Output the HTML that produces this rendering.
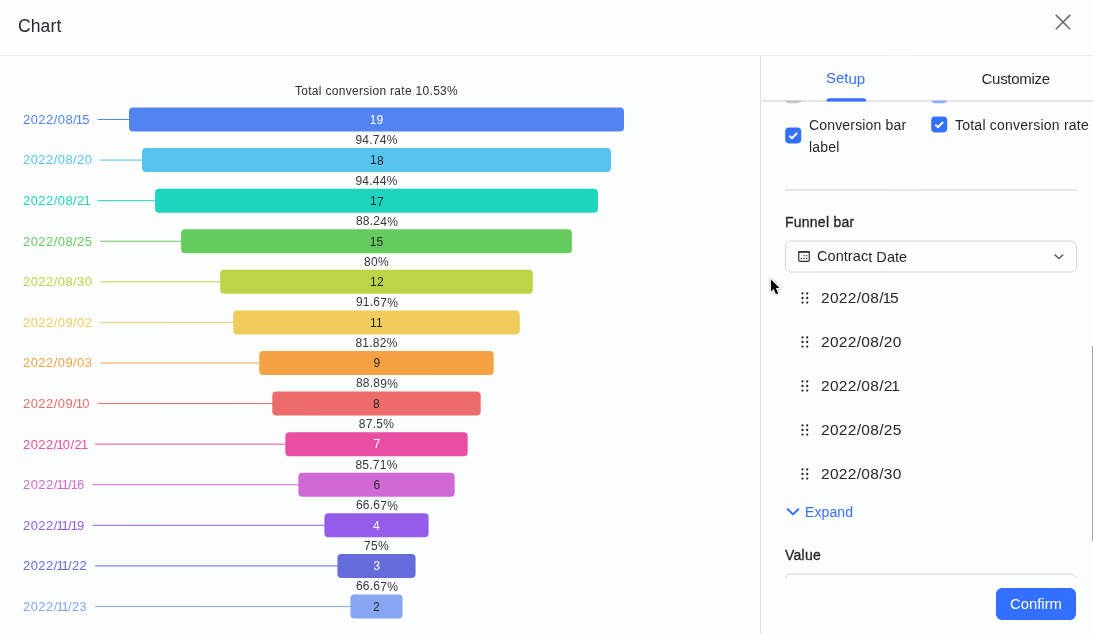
<!DOCTYPE html>
<html>
<head>
<meta charset="utf-8">
<title>Chart</title>
<style>
*{box-sizing:border-box;margin:0;padding:0}
html,body{width:1093px;height:634px;overflow:hidden;background:#fcfefd;font-family:"Liberation Sans",sans-serif;color:#1f2329}
.abs{position:absolute}
#root{position:absolute;left:0;top:0;width:1093px;height:634px;transform:rotate(.001deg);transform-origin:546px 317px;will-change:transform}
#hdr{position:absolute;left:0;top:0;width:1093px;height:56px;border-bottom:1px solid #ebeced}
#title{position:absolute;left:18px;top:14.8px;font-size:17.5px;line-height:22px;letter-spacing:.12px;color:#24282e}
#close{position:absolute;left:1054px;top:13px}
/* chart */
#chart{position:absolute;left:0;top:56px;width:760px;height:578px}
.lbl{position:absolute;left:23px;font-size:13px;line-height:14px;height:14px;white-space:nowrap;letter-spacing:.44px}
.lbl i,.item i{font-style:normal;margin:0 -1.3px}
.bv{position:absolute;left:326.5px;width:100px;text-align:center;font-size:12px;line-height:14px;letter-spacing:.2px}
.pct{position:absolute;left:326.5px;width:100px;text-align:center;font-size:12px;line-height:14px;color:#33373d;letter-spacing:.25px}
#tot{position:absolute;left:226.5px;width:300px;top:83.8px;text-align:center;font-size:12px;line-height:14px;color:#2b2f36;letter-spacing:.3px}
/* panel */
#panel{position:absolute;left:760px;top:55px;width:333px;height:579px;border-left:1px solid #dee0e3}
.tab{position:absolute;top:70px;font-size:15px;line-height:18px;white-space:nowrap}
.cb{position:absolute;width:16px;height:16px;border-radius:3px;background:#3370ff}
.t14{position:absolute;font-size:14px;line-height:22px;white-space:nowrap;color:#1f2329}
.item{position:absolute;left:821px;font-size:15.5px;line-height:20px;white-space:nowrap;color:#24282e;letter-spacing:.3px}
.drag{position:absolute;left:801px}
.med{-webkit-text-stroke:.32px #1f2329}
</style>
</head>
<body>
<div id="root">
<div id="hdr"></div>
<div id="title">Chart</div>
<svg id="close" width="18" height="18" viewBox="0 0 18 18"><path d="M1.8 1.9 L16.2 16.3 M16.2 1.9 L1.8 16.3" stroke="#646a73" stroke-width="1.5" fill="none"/></svg>

<div id="tot">Total conversion rate 10.53%</div>
<svg class="abs" style="left:0;top:0" width="760" height="634" viewBox="0 0 760 634">
<rect x="97.7" y="119" width="32.3" height="1" fill="#5383f0"/>
<rect x="129" y="107.5" width="495" height="24" rx="4" fill="#5383f0"/>
<rect x="100.3" y="159.58" width="42.73" height="1" fill="#55c4ee"/>
<rect x="142.03" y="148.08" width="468.95" height="24" rx="4" fill="#55c4ee"/>
<rect x="97.7" y="200.16" width="58.35" height="1" fill="#1dd5be"/>
<rect x="155.05" y="188.66" width="442.89" height="24" rx="4" fill="#1dd5be"/>
<rect x="100.3" y="240.74" width="81.81" height="1" fill="#65cb5c"/>
<rect x="181.11" y="229.24" width="390.79" height="24" rx="4" fill="#65cb5c"/>
<rect x="100.3" y="281.32" width="120.88" height="1" fill="#bad546"/>
<rect x="220.18" y="269.82" width="312.63" height="24" rx="4" fill="#bad546"/>
<rect x="100.3" y="321.9" width="133.91" height="1" fill="#f0cc5b"/>
<rect x="233.21" y="310.4" width="286.58" height="24" rx="4" fill="#f0cc5b"/>
<rect x="100.3" y="362.48" width="159.96" height="1" fill="#f4a244"/>
<rect x="259.26" y="350.98" width="234.47" height="24" rx="4" fill="#f4a244"/>
<rect x="97.7" y="403.06" width="175.59" height="1" fill="#eb6c68"/>
<rect x="272.29" y="391.56" width="208.42" height="24" rx="4" fill="#eb6c68"/>
<rect x="95.1" y="443.64" width="191.22" height="1" fill="#e94ea2"/>
<rect x="285.32" y="432.14" width="182.37" height="24" rx="4" fill="#e94ea2"/>
<rect x="92.5" y="484.22" width="206.84" height="1" fill="#d169d4"/>
<rect x="298.34" y="472.72" width="156.32" height="24" rx="4" fill="#d169d4"/>
<rect x="92.5" y="524.8" width="232.89" height="1" fill="#935dea"/>
<rect x="324.39" y="513.3" width="104.21" height="24" rx="4" fill="#935dea"/>
<rect x="95.1" y="565.38" width="243.32" height="1" fill="#646bdb"/>
<rect x="337.42" y="553.88" width="78.16" height="24" rx="4" fill="#646bdb"/>
<rect x="95.1" y="605.96" width="256.35" height="1" fill="#86a5f2"/>
<rect x="350.45" y="594.46" width="52.11" height="24" rx="4" fill="#86a5f2"/>
</svg>
<div class="lbl" style="top:113px;color:#5383f0">2022/08/<i>1</i>5</div>
<div class="bv" style="top:113px;color:#fff">19</div>
<div class="pct" style="top:133px">94.74%</div>
<div class="lbl" style="top:153px;color:#55c4ee">2022/08/20</div>
<div class="bv" style="top:153px;transform:translateY(.5px) rotate(.001deg);color:#1f2329">18</div>
<div class="pct" style="top:174px">94.44%</div>
<div class="lbl" style="top:194px;color:#1dd5be">2022/08/2<i>1</i></div>
<div class="bv" style="top:194px;transform:translateY(.5px) rotate(.001deg);color:#1f2329">17</div>
<div class="pct" style="top:214px;transform:translateY(.5px) rotate(.001deg)">88.24%</div>
<div class="lbl" style="top:235px;color:#65cb5c">2022/08/25</div>
<div class="bv" style="top:235px;color:#1f2329">15</div>
<div class="pct" style="top:255px">80%</div>
<div class="lbl" style="top:275px;color:#bad546">2022/08/30</div>
<div class="bv" style="top:275px;transform:translateY(.5px) rotate(.001deg);color:#1f2329">12</div>
<div class="pct" style="top:295px;transform:translateY(.5px) rotate(.001deg)">91.67%</div>
<div class="lbl" style="top:316px;color:#f0cc5b">2022/09/02</div>
<div class="bv" style="top:316px;color:#1f2329">11</div>
<div class="pct" style="top:336px">81.82%</div>
<div class="lbl" style="top:356px;color:#f4a244">2022/09/03</div>
<div class="bv" style="top:356px;transform:translateY(.5px) rotate(.001deg);color:#1f2329">9</div>
<div class="pct" style="top:376px;transform:translateY(.5px) rotate(.001deg)">88.89%</div>
<div class="lbl" style="top:397px;color:#eb6c68">2022/09/<i>1</i>0</div>
<div class="bv" style="top:397px;color:#1f2329">8</div>
<div class="pct" style="top:417px">87.5%</div>
<div class="lbl" style="top:438px;color:#e94ea2">2022/<i>1</i>0/2<i>1</i></div>
<div class="bv" style="top:437px;transform:translateY(.5px) rotate(.001deg);color:#fff">7</div>
<div class="pct" style="top:458px">85.71%</div>
<div class="lbl" style="top:478px;color:#d169d4">2022/<i>1</i><i>1</i>/<i>1</i>6</div>
<div class="bv" style="top:478px;transform:translateY(.5px) rotate(.001deg);color:#1f2329">6</div>
<div class="pct" style="top:498px;transform:translateY(.5px) rotate(.001deg)">66.67%</div>
<div class="lbl" style="top:519px;color:#935dea">2022/<i>1</i><i>1</i>/<i>1</i>9</div>
<div class="bv" style="top:519px;color:#fff">4</div>
<div class="pct" style="top:539px">75%</div>
<div class="lbl" style="top:559px;color:#646bdb">2022/<i>1</i><i>1</i>/22</div>
<div class="bv" style="top:559px;transform:translateY(.5px) rotate(.001deg);color:#fff">3</div>
<div class="pct" style="top:579px;transform:translateY(.5px) rotate(.001deg)">66.67%</div>
<div class="lbl" style="top:600px;color:#86a5f2">2022/<i>1</i><i>1</i>/23</div>
<div class="bv" style="top:600px;color:#1f2329">2</div>

<div id="panel"></div>

<div class="tab" style="left:826px;color:#3370ff;transform:translateY(-.5px) rotate(.001deg)">Setup</div>
<div class="tab" style="left:981.5px;color:#24282e;letter-spacing:-.27px">Customize</div>

<!-- partially hidden checkboxes -->
<div class="abs" style="left:761px;top:100px;width:332px;height:2px;background:#e5e6e8"></div>
<svg class="abs" style="left:820px;top:94px" width="54" height="12" viewBox="820 94 54 12"><path d="M826.7 101.6 V100.6 Q826.7 98.2 829.3 98.2 H863.6 Q866.1 98.2 866.1 100.6 V101.6 Z" fill="#3370ff"/></svg>
<svg class="abs" style="left:780px;top:100px" width="180" height="5" viewBox="780 100 180 5"><defs><clipPath id="pk"><rect x="780" y="100.6" width="180" height="5"/></clipPath></defs><g clip-path="url(#pk)"><rect x="785.2" y="87.2" width="16" height="16" rx="4" fill="#c2c4c7"/><rect x="931.2" y="87.2" width="16" height="16" rx="4" fill="#8fb0ff"/></g></svg>

<svg class="abs" style="left:785px;top:127px" width="18" height="18" viewBox="0 0 18 18"><rect x="0.2" y="0.4" width="16" height="16" rx="3.8" fill="#3370ff"/><path d="M4.3 8.8 L7.05 11.2 L12.1 6" stroke="#fff" stroke-width="1.9" fill="none" stroke-linejoin="miter"/></svg>
<div class="t14" style="left:809px;top:114px;letter-spacing:.17px">Conversion bar</div>
<div class="t14" style="left:809px;top:135.5px;letter-spacing:.17px">label</div>
<svg class="abs" style="left:931px;top:116px" width="18" height="18" viewBox="0 0 18 18"><rect x="0.2" y="0.4" width="16" height="16" rx="3.8" fill="#3370ff"/><path d="M4.3 8.8 L7.05 11.2 L12.1 6" stroke="#fff" stroke-width="1.9" fill="none" stroke-linejoin="miter"/></svg>
<div class="t14" style="left:955px;top:114px;letter-spacing:.23px">Total conversion rate</div>

<div class="abs" style="left:785px;top:189px;width:292px;height:2px;background:#e6e7e9"></div>

<div class="t14 med" style="left:785px;top:211px;letter-spacing:.24px">Funnel bar</div>
<svg class="abs" style="left:780px;top:236px" width="302" height="42" viewBox="780 236 302 42"><rect x="785.5" y="241" width="291" height="31" rx="5.5" fill="none" stroke="#d3d5d8" stroke-width="1"/></svg>
<svg class="abs" style="left:797px;top:250px" width="14" height="14" viewBox="0 0 14 14"><rect x="1.7" y="1.6" width="10.6" height="9.8" rx="1.4" fill="none" stroke="#2b2f36" stroke-width="1.2"/><rect x="1.1" y="1" width="11.8" height="1.7" rx=".8" fill="#2b2f36"/><g fill="#2b2f36"><rect x="6.35" y="4.95" width="1.3" height="1.3" rx=".3"/><rect x="9.05" y="4.95" width="1.3" height="1.3" rx=".3"/><rect x="3.65" y="7.85" width="1.3" height="1.3" rx=".3"/><rect x="6.35" y="7.85" width="1.3" height="1.3" rx=".3"/><rect x="9.05" y="7.85" width="1.3" height="1.3" rx=".3"/></g></svg>
<div class="t14" style="left:817px;top:245px;transform:translateY(.5px) rotate(.001deg);font-size:14.5px;letter-spacing:.06px">Contract Date</div>
<svg class="abs" style="left:1052px;top:250px" width="14" height="14" viewBox="0 0 14 14"><path d="M2.5 4.4 L6.9 8.5 L11.3 4.4" stroke="#5a5f66" stroke-width="1.35" fill="none"/></svg>

<svg class="drag" style="top:291px" width="8" height="14" viewBox="0 0 8 14"><g fill="#24282e"><circle cx="1.5" cy="2.4" r="1.15"/><circle cx="6.2" cy="2.4" r="1.15"/><circle cx="1.5" cy="7" r="1.15"/><circle cx="6.2" cy="7" r="1.15"/><circle cx="1.5" cy="11.6" r="1.15"/><circle cx="6.2" cy="11.6" r="1.15"/></g></svg>
<div class="item" style="top:288px">2022/08/<i>1</i>5</div>
<svg class="drag" style="top:335px" width="8" height="14" viewBox="0 0 8 14"><g fill="#24282e"><circle cx="1.5" cy="2.4" r="1.15"/><circle cx="6.2" cy="2.4" r="1.15"/><circle cx="1.5" cy="7" r="1.15"/><circle cx="6.2" cy="7" r="1.15"/><circle cx="1.5" cy="11.6" r="1.15"/><circle cx="6.2" cy="11.6" r="1.15"/></g></svg>
<div class="item" style="top:332px">2022/08/20</div>
<svg class="drag" style="top:379px" width="8" height="14" viewBox="0 0 8 14"><g fill="#24282e"><circle cx="1.5" cy="2.4" r="1.15"/><circle cx="6.2" cy="2.4" r="1.15"/><circle cx="1.5" cy="7" r="1.15"/><circle cx="6.2" cy="7" r="1.15"/><circle cx="1.5" cy="11.6" r="1.15"/><circle cx="6.2" cy="11.6" r="1.15"/></g></svg>
<div class="item" style="top:376px">2022/08/2<i>1</i></div>
<svg class="drag" style="top:423px" width="8" height="14" viewBox="0 0 8 14"><g fill="#24282e"><circle cx="1.5" cy="2.4" r="1.15"/><circle cx="6.2" cy="2.4" r="1.15"/><circle cx="1.5" cy="7" r="1.15"/><circle cx="6.2" cy="7" r="1.15"/><circle cx="1.5" cy="11.6" r="1.15"/><circle cx="6.2" cy="11.6" r="1.15"/></g></svg>
<div class="item" style="top:420px">2022/08/25</div>
<svg class="drag" style="top:467px" width="8" height="14" viewBox="0 0 8 14"><g fill="#24282e"><circle cx="1.5" cy="2.4" r="1.15"/><circle cx="6.2" cy="2.4" r="1.15"/><circle cx="1.5" cy="7" r="1.15"/><circle cx="6.2" cy="7" r="1.15"/><circle cx="1.5" cy="11.6" r="1.15"/><circle cx="6.2" cy="11.6" r="1.15"/></g></svg>
<div class="item" style="top:464px">2022/08/30</div>

<svg class="abs" style="left:786px;top:505px" width="14" height="14" viewBox="0 0 14 14"><path d="M1.8 4.2 L7 9.4 L12.2 4.2" stroke="#3370ff" stroke-width="2" fill="none" stroke-linecap="round" stroke-linejoin="round"/></svg>
<div class="t14" style="left:805px;top:501px;color:#3370ff;letter-spacing:.1px">Expand</div>

<div class="t14 med" style="left:785px;top:544px;letter-spacing:.25px">Value</div>
<svg class="abs" style="left:780px;top:570px" width="302" height="42" viewBox="780 570 302 42"><rect x="785.5" y="574" width="291" height="31" rx="5.5" fill="none" stroke="#d3d5d8" stroke-width="1"/></svg>
<!-- footer cover -->
<div class="abs" style="left:761px;top:577.5px;width:332px;height:57px;background:#fcfefd"></div>
<div class="abs" style="left:996px;top:588px;width:80px;height:32px;border-radius:6px;background:#3370ff;color:#fff;font-size:14.8px;line-height:32px;text-align:center">Confirm</div>

<!-- scrollbar -->
<div class="abs" style="left:1091.6px;top:346px;width:1.4px;height:195px;background:#a4a4a4"></div>

<!-- cursor -->
<svg class="abs" style="left:767px;top:276px;filter:drop-shadow(0 .8px .8px rgba(0,0,0,.35))" width="18" height="24" viewBox="-2 -2 18 24"><path d="M2 1.4 L2 13.4 L4.7 10.9 L7 16.3 L9.2 15.3 L6.9 10.1 L10.5 9.9 Z" fill="#000" stroke="#fff" stroke-width="1.7" stroke-linejoin="round" paint-order="stroke"/></svg>

</div>
</body>
</html>
